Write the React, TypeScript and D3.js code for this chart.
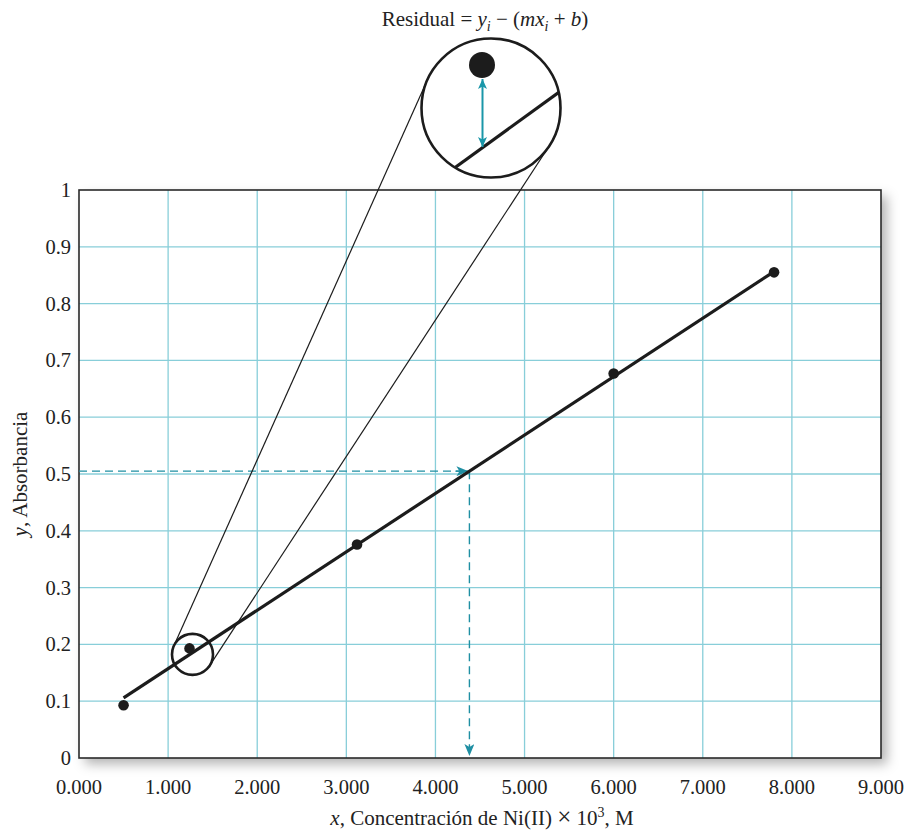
import React from "react";
import * as d3 from "d3";

const xTicks = [0, 1, 2, 3, 4, 5, 6, 7, 8, 9];
const yTicks = [0, 0.1, 0.2, 0.3, 0.4, 0.5, 0.6, 0.7, 0.8, 0.9, 1];
const concX = [0.5, 1.24, 3.12, 6.0, 7.8];
const absY = [0.093, 0.193, 0.376, 0.677, 0.855];
const fitSlope = 0.1028;
const fitIntercept = 0.0546;
const unknownY = 0.505;

const W = 914;
const H = 834;
const M = { left: 79, right: 33, top: 190, bottom: 76 };

const GRID = "#88ced9";
const TEAL = "#1f8fa3";
const INK = "#1c1c1c";
const FONT = "'Liberation Serif', 'Times New Roman', serif";

function tangents(c1: { x: number; y: number; r: number }, c2: { x: number; y: number; r: number }) {
  const dx = c2.x - c1.x;
  const dy = c2.y - c1.y;
  const d = Math.hypot(dx, dy);
  const base = Math.atan2(dy, dx);
  const a = Math.acos((c1.r - c2.r) / d);
  const res: [number, number, number, number][] = [];
  for (const s of [1, -1]) {
    const t = base + s * a;
    res.push([
      c1.x + c1.r * Math.cos(t),
      c1.y + c1.r * Math.sin(t),
      c2.x + c2.r * Math.cos(t),
      c2.y + c2.r * Math.sin(t),
    ]);
  }
  return res;
}

export default function App() {
  const x = d3.scaleLinear().domain([0, 9]).range([M.left, W - M.right]);
  const y = d3.scaleLinear().domain([0, 1]).range([H - M.bottom, M.top]);
  const pw = W - M.right - M.left;
  const ph = H - M.bottom - M.top;

  const fit = (v: number) => fitSlope * v + fitIntercept;
  const xMin = d3.min(concX)!;
  const xMax = d3.max(concX)!;
  const line = d3.line<number>().x((d) => x(d)).y((d) => y(fit(d)));
  const unknownX = (unknownY - fitIntercept) / fitSlope;

  const small = { x: x(concX[1]) + 3, y: y(absY[1]) + 6, r: 20.5 };
  const big = { x: 491, y: 108, r: 69.5 };
  const tl = tangents(small, big);

  const dot = { x: 482, y: 65, r: 13 };
  const chordA = { x: 456.5, y: 166.5 };
  const chordB = { x: 558.5, y: 92.5 };
  const chordYAt = (px: number) => chordA.y + ((chordB.y - chordA.y) * (px - chordA.x)) / (chordB.x - chordA.x);

  const fmtX = d3.format(".3f");
  const fmtY = (v: number) => (v === 0 ? "0" : v === 1 ? "1" : d3.format(".1f")(v));
  const FS = 20.5;
  const TS = 21;

  return (
    <svg width={W} height={H} style={{ display: "block", position: "absolute", left: 0, top: 0 }}>
      <defs>
        <filter id="sh" x="-10%" y="-10%" width="130%" height="130%">
          <feDropShadow dx="6" dy="6" stdDeviation="6" floodColor="#000" floodOpacity="0.3" />
        </filter>
        <marker id="ah" viewBox="0 0 12 10" refX="12" refY="5" markerWidth="12" markerHeight="10" markerUnits="userSpaceOnUse" orient="auto">
          <path d="M0,0 L12,5 L0,10 L3,5 Z" fill={TEAL} />
        </marker>
        <marker id="ah2" viewBox="0 0 10 9" refX="10" refY="4.5" markerWidth="10" markerHeight="9" markerUnits="userSpaceOnUse" orient="auto-start-reverse">
          <path d="M0,0 L10,4.5 L0,9 L2.5,4.5 Z" fill="#1a97a9" />
        </marker>
        <clipPath id="bigclip">
          <circle cx={big.x} cy={big.y} r={big.r} />
        </clipPath>
      </defs>

      <rect x={M.left} y={M.top} width={pw} height={ph} fill="#fff" filter="url(#sh)" />

      {xTicks.slice(1, -1).map((t) => (
        <line key={"gx" + t} x1={x(t)} x2={x(t)} y1={M.top} y2={M.top + ph} stroke={GRID} strokeWidth={1.3} />
      ))}
      {yTicks.slice(1, -1).map((t) => (
        <line key={"gy" + t} x1={M.left} x2={M.left + pw} y1={y(t)} y2={y(t)} stroke={GRID} strokeWidth={1.3} />
      ))}

      <rect x={M.left} y={M.top} width={pw} height={ph} fill="none" stroke="#2a2a2a" strokeWidth={1.6} />

      {xTicks.map((t) => (
        <text key={"tx" + t} x={x(t)} y={794} textAnchor="middle" fontFamily={FONT} fontSize={FS} fill="#222">
          {fmtX(t)}
        </text>
      ))}
      {yTicks.map((t) => (
        <text key={"ty" + t} x={71} y={y(t) + 7} textAnchor="end" fontFamily={FONT} fontSize={FS} fill="#222">
          {fmtY(t)}
        </text>
      ))}

      <text x={482} y={825} textAnchor="middle" fontFamily={FONT} fontSize={TS} fill="#222">
        <tspan fontStyle="italic">x</tspan>, Concentración de Ni(II) <tspan fontSize={25}>×</tspan> 10
        <tspan dy={-8} fontSize={14}>3</tspan>
        <tspan dy={8}>, M</tspan>
      </text>
      <text transform={`translate(27,${M.top + ph / 2}) rotate(-90)`} textAnchor="middle" fontFamily={FONT} fontSize={TS} fill="#222">
        <tspan fontStyle="italic">y</tspan>, Absorbancia
      </text>

      <line x1={M.left} x2={x(unknownX)} y1={y(unknownY)} y2={y(unknownY)} stroke={TEAL} strokeWidth={1.4} strokeDasharray="8,5" />
      <line x1={x(unknownX) - 14} x2={x(unknownX) - 1} y1={y(unknownY)} y2={y(unknownY)} stroke={TEAL} strokeWidth={1.4} markerEnd="url(#ah)" />
      <line x1={x(unknownX)} x2={x(unknownX)} y1={y(unknownY)} y2={y(0) - 2} stroke={TEAL} strokeWidth={1.4} strokeDasharray="8,5" markerEnd="url(#ah)" />

      {tl.map((l, i) => (
        <line key={"tl" + i} x1={l[0]} y1={l[1]} x2={l[2]} y2={l[3]} stroke={INK} strokeWidth={1.2} />
      ))}

      <path d={line([xMin, xMax]) || ""} fill="none" stroke={INK} strokeWidth={3.2} />

      {concX.map((cx, i) => (
        <circle key={"p" + i} cx={x(cx)} cy={y(absY[i])} r={5.3} fill={INK} />
      ))}

      <circle cx={small.x} cy={small.y} r={small.r} fill="none" stroke={INK} strokeWidth={2.6} />

      <circle cx={big.x} cy={big.y} r={big.r} fill="#fff" />
      <g clipPath="url(#bigclip)">
        <line x1={chordA.x - 10} y1={chordYAt(chordA.x - 10)} x2={chordB.x + 10} y2={chordYAt(chordB.x + 10)} stroke={INK} strokeWidth={3.2} />
      </g>
      <circle cx={dot.x} cy={dot.y} r={dot.r} fill={INK} />
      <line x1={dot.x + 0.5} x2={dot.x + 0.5} y1={dot.y + dot.r + 1} y2={chordYAt(dot.x) - 1} stroke="#1a97a9" strokeWidth={2} markerStart="url(#ah2)" markerEnd="url(#ah2)" />
      <circle cx={big.x} cy={big.y} r={big.r} fill="none" stroke={INK} strokeWidth={2.6} />

      <text x={485} y={26} textAnchor="middle" fontFamily={FONT} fontSize={TS} fill="#222">
        Residual = <tspan fontStyle="italic">y</tspan>
        <tspan fontStyle="italic" fontSize={14} dy={5}>i</tspan>
        <tspan dy={-5}> − (</tspan>
        <tspan fontStyle="italic">mx</tspan>
        <tspan fontStyle="italic" fontSize={14} dy={5}>i</tspan>
        <tspan dy={-5}> + </tspan>
        <tspan fontStyle="italic">b</tspan>)
      </text>
    </svg>
  );
}
